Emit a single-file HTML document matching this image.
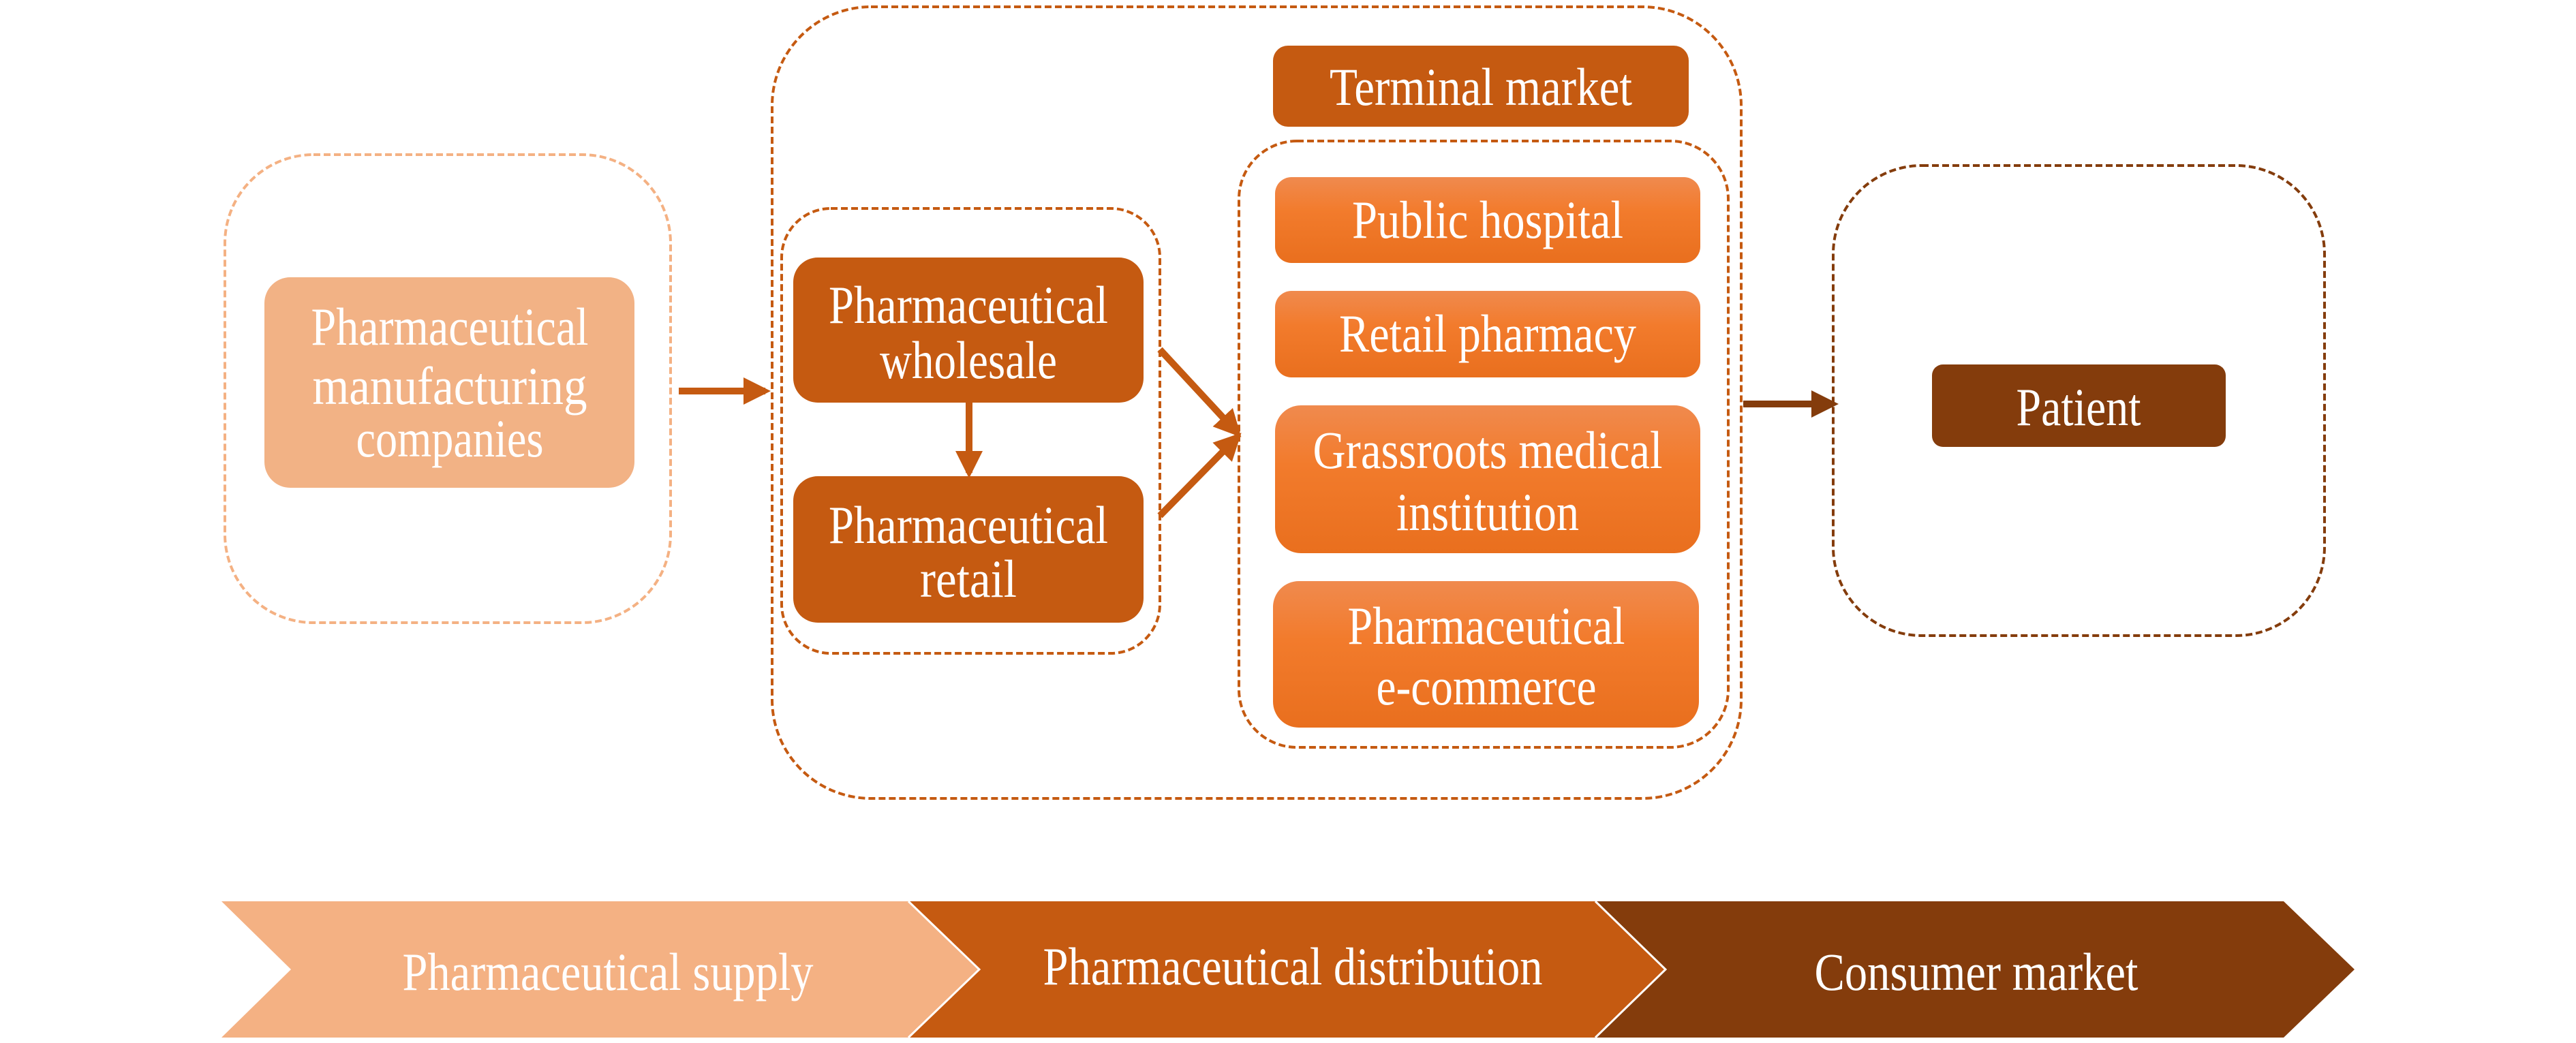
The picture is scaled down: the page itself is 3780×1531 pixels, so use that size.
<!DOCTYPE html>
<html><head><meta charset="utf-8"><style>
html,body{margin:0;padding:0;background:#fff}
svg{display:block}
text{font-family:"Liberation Serif",serif;fill:#fff;font-size:78px;text-anchor:middle}
</style></head><body>
<svg width="3780" height="1531" viewBox="0 0 3780 1531" xmlns="http://www.w3.org/2000/svg">
<defs>
<linearGradient id="og" x1="0" y1="0" x2="0" y2="1">
<stop offset="0" stop-color="#f08a4e"/><stop offset="0.4" stop-color="#f27b2c"/><stop offset="1" stop-color="#e96f1e"/>
</linearGradient>
<marker id="ah" markerWidth="4" markerHeight="4" refX="3.2" refY="2" orient="auto" markerUnits="strokeWidth">
<path d="M0,0 L4,2 L0,4 z" fill="#c55a11"/></marker>
<marker id="ahd" markerWidth="4" markerHeight="4" refX="3.2" refY="2" orient="auto" markerUnits="strokeWidth">
<path d="M0,0 L4,2 L0,4 z" fill="#843c0c"/></marker>
</defs>
<g fill="none" stroke-width="4" stroke-dasharray="10 5">
<rect x="330" y="227" width="654" height="687" rx="130" stroke="#f4b183"/>
<rect x="1133" y="10" width="1422" height="1162" rx="145" stroke="#c55a11"/>
<rect x="1147" y="306" width="555" height="653" rx="72" stroke="#c55a11"/>
<rect x="1818" y="207" width="718" height="890" rx="85" stroke="#c55a11"/>
<rect x="2690" y="243" width="721" height="690" rx="130" stroke="#843c0c"/>
</g>
<rect x="388" y="407" width="543" height="309" rx="38" fill="#f2b285"/>
<rect x="1164" y="378" width="514" height="213" rx="36" fill="#c55a11"/>
<rect x="1164" y="699" width="514" height="215" rx="36" fill="#c55a11"/>
<rect x="1868" y="67" width="610" height="119" rx="22" fill="#c55a11"/>
<rect x="1871" y="260" width="624" height="126" rx="24" fill="url(#og)"/>
<rect x="1871" y="427" width="624" height="127" rx="24" fill="url(#og)"/>
<rect x="1871" y="595" width="624" height="217" rx="38" fill="url(#og)"/>
<rect x="1868" y="853" width="625" height="215" rx="38" fill="url(#og)"/>
<rect x="2835" y="535" width="431" height="121" rx="16" fill="#843c0c"/>
<g stroke-width="10" fill="none">
<line x1="996" y1="574" x2="1123" y2="574" stroke="#c55a11" marker-end="url(#ah)"/>
<line x1="1422" y1="591" x2="1422" y2="694" stroke="#c55a11" marker-end="url(#ah)"/>
<line x1="1702" y1="513" x2="1816" y2="636" stroke="#c55a11" marker-end="url(#ah)"/>
<line x1="1702" y1="757" x2="1816" y2="641" stroke="#c55a11" marker-end="url(#ah)"/>
<line x1="2558" y1="593" x2="2690" y2="593" stroke="#843c0c" marker-end="url(#ahd)"/>
</g>
<polygon points="325,1323 1333,1323 1437,1423 1333,1523 325,1523 427,1423" fill="#f4b183"/>
<polygon points="1333,1323 2341,1323 2444,1423 2341,1523 1333,1523 1437,1423" fill="#c55a11"/>
<polygon points="2341,1323 3351,1323 3455,1423 3351,1523 2341,1523 2444,1423" fill="#843c0c"/>
<polyline points="1333,1323 1437,1423 1333,1523" fill="none" stroke="#fff" stroke-width="3"/>
<polyline points="2341,1323 2444,1423 2341,1523" fill="none" stroke="#fff" stroke-width="3"/>
<text x="660" y="506" textLength="407" lengthAdjust="spacingAndGlyphs">Pharmaceutical</text>
<text x="660" y="593" textLength="403" lengthAdjust="spacingAndGlyphs">manufacturing</text>
<text x="660" y="670" textLength="275" lengthAdjust="spacingAndGlyphs">companies</text>
<text x="1421" y="474" textLength="410" lengthAdjust="spacingAndGlyphs">Pharmaceutical</text>
<text x="1421" y="555" textLength="260" lengthAdjust="spacingAndGlyphs">wholesale</text>
<text x="1421" y="797" textLength="410" lengthAdjust="spacingAndGlyphs">Pharmaceutical</text>
<text x="1421" y="876" textLength="142" lengthAdjust="spacingAndGlyphs">retail</text>
<text x="2173" y="154" textLength="444" lengthAdjust="spacingAndGlyphs">Terminal market</text>
<text x="2183" y="349" textLength="398" lengthAdjust="spacingAndGlyphs">Public hospital</text>
<text x="2183" y="516" textLength="436" lengthAdjust="spacingAndGlyphs">Retail pharmacy</text>
<text x="2183" y="687" textLength="513" lengthAdjust="spacingAndGlyphs">Grassroots medical</text>
<text x="2183" y="778" textLength="268" lengthAdjust="spacingAndGlyphs">institution</text>
<text x="2181" y="945" textLength="407" lengthAdjust="spacingAndGlyphs">Pharmaceutical</text>
<text x="2181" y="1034" textLength="323" lengthAdjust="spacingAndGlyphs">e-commerce</text>
<text x="3050" y="624" textLength="183" lengthAdjust="spacingAndGlyphs">Patient</text>
<text x="892" y="1453" textLength="603" lengthAdjust="spacingAndGlyphs">Pharmaceutical supply</text>
<text x="1897" y="1445" textLength="733" lengthAdjust="spacingAndGlyphs">Pharmaceutical distribution</text>
<text x="2900" y="1453" textLength="475" lengthAdjust="spacingAndGlyphs">Consumer market</text>
</svg>
</body></html>
